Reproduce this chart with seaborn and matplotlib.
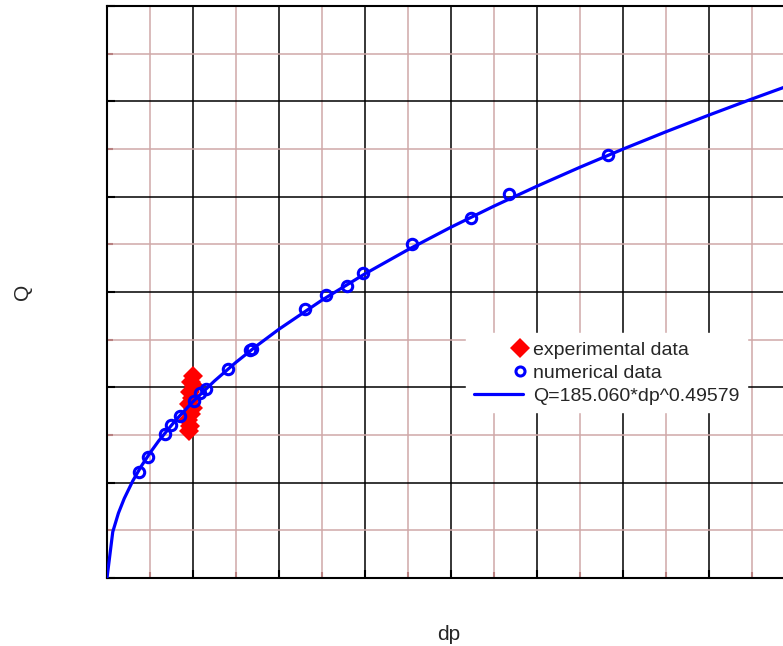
import numpy as np
import matplotlib
matplotlib.use("Agg")
import matplotlib.pyplot as plt
from matplotlib.ticker import MultipleLocator
from matplotlib.lines import Line2D
from matplotlib.legend_handler import HandlerLine2D
import seaborn as sns

# Experimental data (red diamonds)
exp_dp = [1.000, 0.977, 1.012, 0.965, 0.988, 0.953, 1.000, 0.977, 0.942, 0.965, 0.953]
exp_q = [211.9, 205.6, 201.4, 195.1, 188.8, 182.5, 178.3, 172.0, 165.7, 159.4, 154.2]

# Numerical data (blue open circles)
num_dp = [0.372, 0.480, 0.678, 0.741, 0.849, 1.012, 1.081, 1.151, 1.403, 1.663, 1.683,
          2.302, 2.547, 2.787, 2.973, 3.543, 4.229, 4.674, 5.822]
num_q = [111.5, 126.9, 150.7, 160.5, 169.9, 185.7, 194.4, 197.9, 218.9, 239.2, 239.9,
         281.9, 296.9, 306.6, 320.3, 350.0, 378.0, 402.5, 443.7]

# Fitted curve Q=185.060*dp^0.49579
fit_dp = [0, 0.067, 0.133, 0.2, 0.3, 0.4, 0.5, 0.6, 0.8, 1.0, 1.25, 1.5, 1.75, 2.0,
          2.5, 3.0, 3.5, 4.0, 4.5, 5.0, 5.5, 6.0, 6.5, 7.0, 7.5, 8.0]
fit_q = [0, 48.4, 68.1, 83.3, 101.9, 117.5, 131.2, 143.7, 165.7, 185.1, 206.7, 226.3,
         244.2, 261.0, 291.5, 319.1, 344.4, 368.0, 390.1, 411.0, 430.9, 449.9, 468.1,
         485.6, 502.5, 518.9]

sns.set_theme(style="white")
plt.rcParams['font.family'] = ['Liberation Sans', 'DejaVu Sans']

fig = plt.figure(figsize=(7.83, 6.46), dpi=100)
ax = fig.add_axes([107 / 783, 68 / 646, 688 / 783, 572 / 646])

# Curves and points
sns.lineplot(x=exp_dp, y=exp_q, estimator=None, sort=False, marker='D', linestyle='',
             color='red', markersize=10.5, markeredgewidth=0, ax=ax, zorder=3)
sns.lineplot(x=fit_dp, y=fit_q, estimator=None, color='blue', linewidth=2.3, ax=ax, zorder=4)
sns.lineplot(x=num_dp, y=num_q, estimator=None, sort=False, marker='o', linestyle='',
             markerfacecolor='none', markeredgecolor='blue', markeredgewidth=2.2,
             markersize=7.5, ax=ax, zorder=5)

ax.set_xlim(0, 8)
ax.set_ylim(0, 600)
ax.xaxis.set_major_locator(MultipleLocator(1))
ax.xaxis.set_minor_locator(MultipleLocator(0.5))
ax.yaxis.set_major_locator(MultipleLocator(100))
ax.yaxis.set_minor_locator(MultipleLocator(50))
ax.set_axisbelow(True)
ax.grid(which='minor', color='#d0a8a8', linewidth=1.1)
ax.grid(which='major', color='black', linewidth=1.1)
ax.tick_params(which='both', direction='in', labelbottom=False, labelleft=False,
               bottom=True, left=True)
ax.tick_params(which='major', length=6, width=1.5, color='black')
ax.tick_params(which='minor', length=4, width=1.5, color='#b88080')
for s in ax.spines.values():
    s.set_color('black')
    s.set_linewidth(1.5)

ax.set_xlabel('dp', fontsize=15)
ax.set_ylabel('Q', fontsize=15)
ax.xaxis.set_label_coords(0.497, -0.082)
ax.yaxis.set_label_coords(-0.109, 0.5)


# legend markers sit at the right end of the handle, not in the middle
class RightMarker(HandlerLine2D):
    def get_xdata(self, legend, xdescent, ydescent, width, height, fontsize):
        right = -xdescent + width - 1.5
        return [right - 1, right + 1], [right]


h_exp = Line2D([], [], marker='D', linestyle='', color='red', markersize=10.5, markeredgewidth=0)
h_num = Line2D([], [], marker='o', linestyle='', markerfacecolor='none',
               markeredgecolor='blue', markeredgewidth=2.2, markersize=6.5)
h_fit = Line2D([], [], color='blue', linewidth=2.3)
leg = ax.legend([h_exp, h_num, h_fit],
                ['experimental data', 'numerical data', 'Q=185.060*dp^0.49579'],
                loc='upper left', bbox_to_anchor=(0.522, 0.428), fontsize=14,
                handlelength=2.5, handletextpad=0.55, labelspacing=0.28,
                borderpad=0.4, borderaxespad=0, frameon=True, fancybox=False,
                framealpha=1, edgecolor='white',
                handler_map={h_exp: RightMarker(), h_num: RightMarker()})

fig.savefig('out.png', dpi=100)
